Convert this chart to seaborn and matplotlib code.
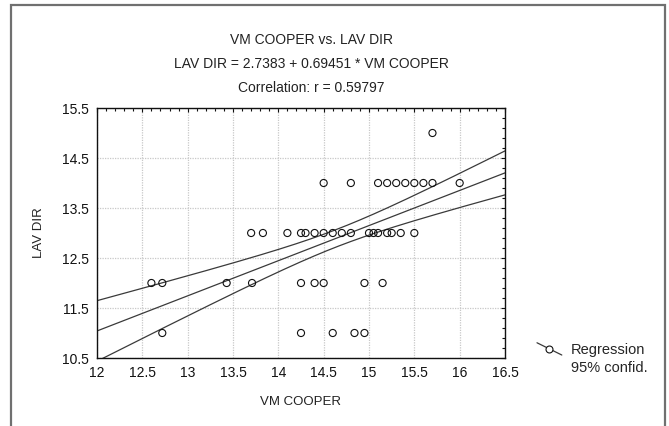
import numpy as np
import pandas as pd
import seaborn as sns
import matplotlib.pyplot as plt
from matplotlib.lines import Line2D
from matplotlib.legend_handler import HandlerBase
from matplotlib.ticker import MultipleLocator
from matplotlib.patches import Rectangle

# points, grouped by LAV DIR level
x_at_15 = [15.7]
x_at_14 = [14.5, 14.8, 15.1, 15.2, 15.3, 15.4, 15.5, 15.6, 15.7, 16.0]
x_at_13 = [13.7, 13.83, 14.1, 14.25, 14.3, 14.4, 14.5, 14.6, 14.7, 14.8,
           15.0, 15.05, 15.1, 15.2, 15.25, 15.35, 15.5]
x_at_12 = [12.6, 12.72, 13.43, 13.71, 14.25, 14.4, 14.5, 14.95, 15.15]
x_at_11 = [12.72, 14.25, 14.6, 14.84, 14.95]

# how many cases sit on each circle (overlapping values)
n_at_15 = [2]
n_at_14 = [3, 3, 2, 2, 2, 2, 2, 2, 2, 2]
n_at_13 = [2] * 17
n_at_12 = [2] * 9
n_at_11 = [2, 2, 1, 1, 2]

vm_cooper = x_at_15 + x_at_14 + x_at_13 + x_at_12 + x_at_11
lav_dir = ([15] * len(x_at_15) + [14] * len(x_at_14) + [13] * len(x_at_13)
           + [12] * len(x_at_12) + [11] * len(x_at_11))
cases = n_at_15 + n_at_14 + n_at_13 + n_at_12 + n_at_11

x_ticks = [12, 12.5, 13, 13.5, 14, 14.5, 15, 15.5, 16, 16.5]
y_ticks = [10.5, 11.5, 12.5, 13.5, 14.5, 15.5]
x_tick_labels = ['12', '12.5', '13', '13.5', '14', '14.5', '15', '15.5', '16', '16.5']

df = pd.DataFrame({'VM COOPER': np.repeat(vm_cooper, cases),
                   'LAV DIR': np.repeat(lav_dir, cases)})

# regression + 95% confidence band for the mean
x = df['VM COOPER'].to_numpy()
y = df['LAV DIR'].to_numpy()
slope, intercept = np.polyfit(x, y, 1)
n = len(x)
s = np.sqrt(np.sum((y - (intercept + slope * x)) ** 2) / (n - 2))
sxx = np.sum((x - x.mean()) ** 2)
t_crit = 1.99
xs = np.linspace(12, 16.5, 200)
fit = intercept + slope * xs
half = t_crit * s * np.sqrt(1 / n + (xs - x.mean()) ** 2 / sxx)
lines = pd.DataFrame({'x': np.concatenate([xs, xs, xs]),
                      'y': np.concatenate([fit, fit + half, fit - half]),
                      'band': ['fit'] * len(xs) + ['upper'] * len(xs) + ['lower'] * len(xs)})

sns.set_style('white')
plt.rcParams['font.family'] = ['Liberation Sans', 'DejaVu Sans']

fig = plt.figure(figsize=(6.69, 4.26), dpi=100)
ax = fig.add_axes([97 / 669, 1 - 358 / 426, 408 / 669, 250 / 426])

line_col = '#3a3a3a'
sns.lineplot(data=lines, x='x', y='y', units='band', estimator=None,
             color=line_col, linewidth=0.9, ax=ax, legend=False)
sns.scatterplot(data=df.drop_duplicates(), x='VM COOPER', y='LAV DIR', marker='o', s=26,
                facecolor='none', edgecolor='#111111', linewidth=0.8, ax=ax, zorder=3)

ax.set_xlim(12, 16.5)
ax.set_ylim(10.5, 15.5)
ax.set_xticks(x_ticks)
ax.set_xticklabels(x_tick_labels)
ax.set_yticks(y_ticks)
ax.xaxis.set_minor_locator(MultipleLocator(0.1))
ax.yaxis.set_minor_locator(MultipleLocator(0.2, offset=0.1))
ax.tick_params(which='both', direction='in', top=True, right=True,
               labelsize=10, colors='#111111', pad=6)
ax.tick_params(which='major', length=3, width=0.8)
ax.tick_params(which='minor', length=2.5, width=0.8)
ax.grid(which='major', color='#c8c8c8', linestyle=(0, (1, 1)), linewidth=0.9)
for sp in ax.spines.values():
    sp.set_color('#111111')
    sp.set_linewidth(1.0)

ax.set_xlabel('VM COOPER', fontsize=9.5, color='#222222', labelpad=11)
ax.set_ylabel('LAV DIR', fontsize=9.5, color='#222222', labelpad=12)

cx = 311 / 669
title_lines = ['VM COOPER vs. LAV DIR',
               'LAV DIR = 2.7383 + 0.69451 * VM COOPER',
               'Correlation: r = 0.59797']
for i, txt in enumerate(title_lines):
    fig.text(cx, 1 - (40 + 24 * i) / 426, txt, ha='center', va='center',
             fontsize=10, color='#222222')


class SlopeHandler(HandlerBase):
    def create_artists(self, legend, orig_handle, xdescent, ydescent,
                       width, height, fontsize, trans):
        x0, x1 = -xdescent, width - xdescent
        y0, y1 = -ydescent + height * 1.1, -ydescent - height * 0.1
        seg = Line2D([x0, x1], [y0, y1], color=line_col, lw=0.9, transform=trans)
        dot = Line2D([(x0 + x1) / 2], [(y0 + y1) / 2], marker='o', ms=5,
                     mfc='white', mec='#111111', mew=0.8, ls='none', transform=trans)
        return [seg, dot]


reg_handle = Line2D([], [], color=line_col)
blank = Line2D([], [], color='none')
fig.legend([reg_handle, blank], ['Regression', '95% confid.'],
           handler_map={reg_handle: SlopeHandler()},
           loc='upper left', bbox_to_anchor=(537 / 669, 1 - 343 / 426),
           frameon=False, fontsize=10.5, handlelength=1.7, handletextpad=0.6,
           labelspacing=0.3, borderpad=0, borderaxespad=0)

# outer frame
fig.patches.append(Rectangle((10.5 / 669, -0.05), 654.5 / 669, 1.05 - 4.5 / 426,
                             transform=fig.transFigure, fill=False,
                             edgecolor='#707070', linewidth=1.6))

fig.savefig('out.png', dpi=100)
